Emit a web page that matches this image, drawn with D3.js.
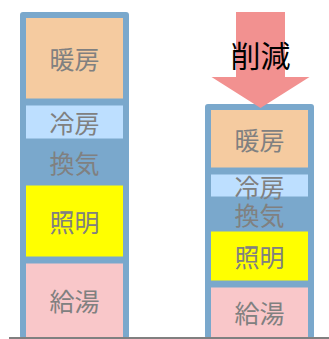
<!DOCTYPE html>
<html>
<head>
<meta charset="utf-8">
<script src="https://cdn.jsdelivr.net/npm/d3@7"></script>
<style>
  body { margin: 0; background: #fff; }
  svg { display: block; font-family: "Noto Sans CJK JP", "Noto Sans", sans-serif; }
</style>
</head>
<body>
<svg id="chart" width="329" height="339"></svg>
<script>
// top to bottom
var categories = ["暖房", "冷房", "換気", "照明", "給湯"];
var columns = ["before", "after"];
var beforeValues = [90, 40, 40, 78, 77];
var afterValues = [67, 29, 28, 56, 53];
var arrowLabel = "削減";

var fills = {
  "暖房": "#f5cba0",
  "冷房": "#bddfff",
  "換気": "#7aa8cc",
  "照明": "#ffff00",
  "給湯": "#f9c7c9"
};
var frameColor = "#7aa8cc";

var svg = d3.select('#chart');

var x = d3.scaleBand()
  .domain(columns)
  .range([20, 314])
  .paddingInner(1 - 109 / 185)
  .paddingOuter(0);

var y = d3.scaleLinear()
  .domain([0, d3.sum(beforeValues)])
  .range([337, 12]);

function stackColumn(values) {
  // stack from the bottom (last category) upwards
  var rows = [];
  var acc = 0;
  for (var i = categories.length - 1; i >= 0; i--) {
    rows.push({ cat: categories[i], y0: acc, y1: acc + values[i], top: i === 0 });
    acc += values[i];
  }
  return { rows: rows, total: acc };
}

var data = [
  { key: "before", stack: stackColumn(beforeValues) },
  { key: "after", stack: stackColumn(afterValues) }
];

var col = svg.selectAll('.col').data(data)
  .enter().append('g')
    .attr('class', 'col');

// outer frame
col.append('rect')
  .attr('x', d => x(d.key))
  .attr('y', d => y(d.stack.total))
  .attr('width', x.bandwidth())
  .attr('height', d => y(0) - y(d.stack.total) + 2)
  .attr('rx', 3)
  .attr('fill', frameColor);

var seg = col.selectAll('.seg').data(d => d.stack.rows.map(r => Object.assign({ key: d.key }, r)))
  .enter().append('g')
    .attr('class', 'seg');

var padX = 6, padY = 3.5, padTop = 6;

seg.append('rect')
  .attr('x', d => x(d.key) + padX)
  .attr('y', d => y(d.y1) + (d.top ? padTop : padY))
  .attr('width', x.bandwidth() - padX * 2)
  .attr('height', d => y(d.y0) - y(d.y1) - (d.top ? padTop : padY) - (d.y0 === 0 ? 0 : padY))
  .attr('fill', d => fills[d.cat]);

seg.append('text')
  .attr('x', d => x(d.key) + x.bandwidth() / 2)
  .attr('y', d => {
    var top = y(d.y1) + (d.top ? padTop : padY);
    var bot = y(d.y0) - (d.y0 === 0 ? 0 : padY);
    return (top + bot) / 2;
  })
  .attr('text-anchor', 'middle')
  .attr('dominant-baseline', 'central')
  .attr('font-size', 25)
  .attr('fill', '#808080')
  .text(d => d.cat);

// baseline
svg.append('line')
  .attr('x1', 9).attr('x2', 329)
  .attr('y1', y(0) + 1.3).attr('y2', y(0) + 1.3)
  .attr('stroke', '#808080')
  .attr('stroke-width', 2.6);

// reduction arrow over the second column
var cx = x("after") + x.bandwidth() / 2 + 1;
var arrow = d3.path();
arrow.moveTo(cx - 24.5, 12);
arrow.lineTo(cx + 24.5, 12);
arrow.lineTo(cx + 24.5, 77);
arrow.lineTo(cx + 49, 77);
arrow.lineTo(cx, 108);
arrow.lineTo(cx - 49, 77);
arrow.lineTo(cx - 24.5, 77);
arrow.closePath();

svg.append('path')
  .attr('d', arrow.toString())
  .attr('fill', '#f29190');

svg.append('text')
  .attr('x', cx)
  .attr('y', 54)
  .attr('text-anchor', 'middle')
  .attr('dominant-baseline', 'central')
  .attr('font-size', 30)
  .attr('fill', '#000')
  .text(arrowLabel);
</script>
</body>
</html>
